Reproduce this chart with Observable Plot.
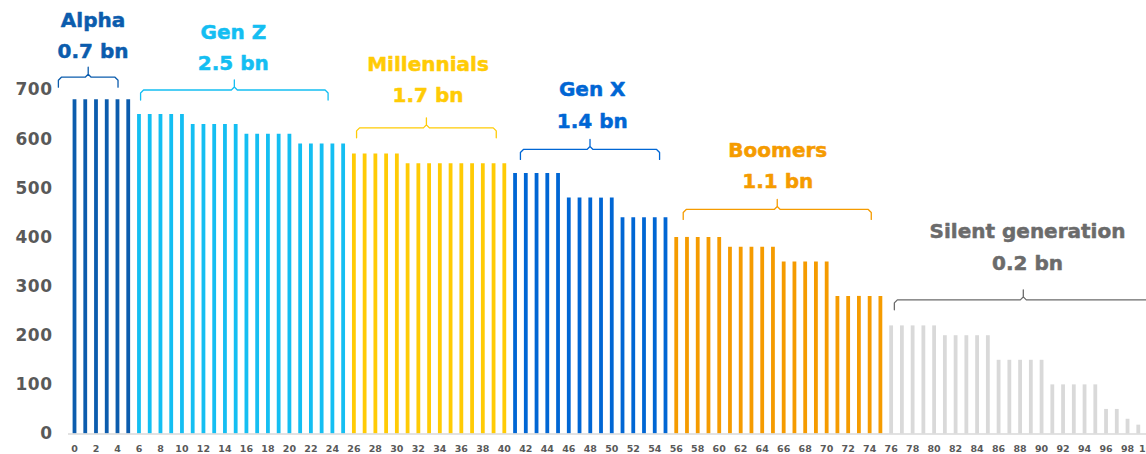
<!DOCTYPE html>
<html>
<head>
<meta charset="utf-8">
<script src="https://cdn.jsdelivr.net/npm/d3@7"></script>
<script src="https://cdn.jsdelivr.net/npm/@observablehq/plot@0.6"></script>
<style>
  html, body { margin: 0; padding: 0; background: #fff; overflow: hidden; }
  #chart svg { display: block; overflow: hidden; }
  g[aria-label^="y-axis"] text { font-family: "DejaVu Sans", sans-serif; font-size: 17px; font-weight: bold; fill: #595959; letter-spacing: 0.5px; }
  g[aria-label^="x-axis"] text { font-family: "DejaVu Sans", sans-serif; font-size: 9.5px; font-weight: bold; fill: #595959; }
</style>
</head>
<body>
<div id="chart"></div>
<script>
// ---- data ----
const ages = [
  0,1,2,3,4,5,6,7,8,9,10,11,12,13,14,15,16,17,18,19,
  20,21,22,23,24,25,26,27,28,29,30,31,32,33,34,35,36,37,38,39,
  40,41,42,43,44,45,46,47,48,49,50,51,52,53,54,55,56,57,58,59,
  60,61,62,63,64,65,66,67,68,69,70,71,72,73,74,75,76,77,78,79,
  80,81,82,83,84,85,86,87,88,89,90,91,92,93,94,95,96,97,98,99
];
const population = [
  680,680,680,680,680,680,
  650,650,650,650,650,
  630,630,630,630,630,
  610,610,610,610,610,
  590,590,590,590,590,
  570,570,570,570,570,
  550,550,550,550,550,550,550,550,550,550,
  530,530,530,530,530,
  480,480,480,480,480,
  440,440,440,440,440,
  400,400,400,400,400,
  380,380,380,380,380,
  350,350,350,350,350,
  280,280,280,280,280,
  220,220,220,220,220,
  200,200,200,200,200,
  150,150,150,150,150,
  100,100,100,100,100,
  50,50,30,18
];
const genNames  = ["Alpha", "Gen Z", "Millennials", "Gen X", "Boomers", "Silent generation"];
const genTotals = ["0.7 bn", "2.5 bn", "1.7 bn", "1.4 bn", "1.1 bn", "0.2 bn"];
const genFirstAge = [0, 6, 26, 41, 56, 76];
const genBarColors   = ["#0b5cad", "#14bef2", "#ffcb05", "#0066d4", "#f59b00", "#d9d9d9"];
const genLabelColors = ["#0b5cad", "#14bef2", "#ffcb05", "#0066d4", "#f59b00", "#6b6b6b"];
// annotation brackets (age span and level in population units) and label anchors
const bracketFrom  = [-1.5, 6.15, 26.25, 41.5, 56.65, 76.3];
const bracketTo    = [4.05, 23.6, 39.25, 54.45, 74.15, 100.3];
const bracketLevel = [726, 700, 623, 579, 457, 273];
const labelAge     = [1.72, 14.78, 32.9, 48.18, 65.45, 88.69];
const labelLevel   = [817, 793, 727, 676, 553, 387];
const xTicks = [0,2,4,6,8,10,12,14,16,18,20,22,24,26,28,30,32,34,36,38,40,42,44,46,48,50,
                52,54,56,58,60,62,64,66,68,70,72,74,76,78,80,82,84,86,88,90,92,94,96,98,100];
const yTicks = [0,100,200,300,400,500,600,700];

// ---- build tables ----
const genIndex = a => { let g = 0; for (let i = 0; i < genFirstAge.length; i++) if (a >= genFirstAge[i]) g = i; return g; };
const bars = ages.map((a, i) => ({age: a, pop: population[i], color: genBarColors[genIndex(a)]}));

const pxPerAge = 10.745, pxPerUnit = 344 / 700;
const ax = px => px / pxPerAge, uy = px => px / pxPerUnit;
const gens = genNames.map((name, i) => ({
  name, total: genTotals[i], color: genLabelColors[i],
  x0: bracketFrom[i], x1: bracketTo[i], L: bracketLevel[i],
  labelX: labelAge[i], labelY: labelLevel[i],
  xm: (bracketFrom[i] + bracketTo[i]) / 2
}));
function bracketPoints(g) {
  const h = uy(10), n = uy(10), r = uy(3), rx = ax(3);
  const {x0, x1, xm, L} = g;
  return [
    [x0, L - h], [x0, L - r], [x0 + rx, L], [xm - rx, L], [xm, L + r], [xm, L + n],
    [xm, L + r], [xm + rx, L], [x1 - rx, L], [x1, L - r], [x1, L - h]
  ];
}

const chart = Plot.plot({
  width: 1146,
  height: 454,
  marginLeft: 68,
  marginRight: 0,
  marginTop: 0,
  marginBottom: 20.5,
  style: {background: "#fff", fontFamily: "DejaVu Sans, sans-serif"},
  x: {domain: [-0.5, 100.5], range: [68.63, 1153.9], ticks: xTicks, tickFormat: d => String(d), tickSize: 0, tickPadding: 11.5, label: null},
  y: {domain: [0, 700], range: [433.5, 89.5], ticks: yTicks, tickFormat: d => String(d), tickSize: 0, tickPadding: 16, label: null},
  marks: [
    Plot.ruleX(bars, {x: "age", y1: 0, y2: "pop", stroke: d => d.color, strokeWidth: 3.8}),
    Plot.ruleY([0], {stroke: "#d9d9d9", strokeWidth: 1.5}),
    ...gens.map(g => Plot.line(bracketPoints(g), {x: d => d[0], y: d => d[1], stroke: g.color, strokeWidth: 1.3, strokeLinejoin: "round"})),
    Plot.text(gens, {
      x: "labelX", y: "labelY", text: d => d.name + "\n" + d.total,
      fill: d => d.color, stroke: d => d.color, strokeWidth: 0.5,
      fontSize: 20, fontWeight: "bold", lineHeight: 1.57,
      fontFamily: "DejaVu Sans"
    })
  ]
});
document.getElementById("chart").appendChild(chart);
</script>
</body>
</html>
